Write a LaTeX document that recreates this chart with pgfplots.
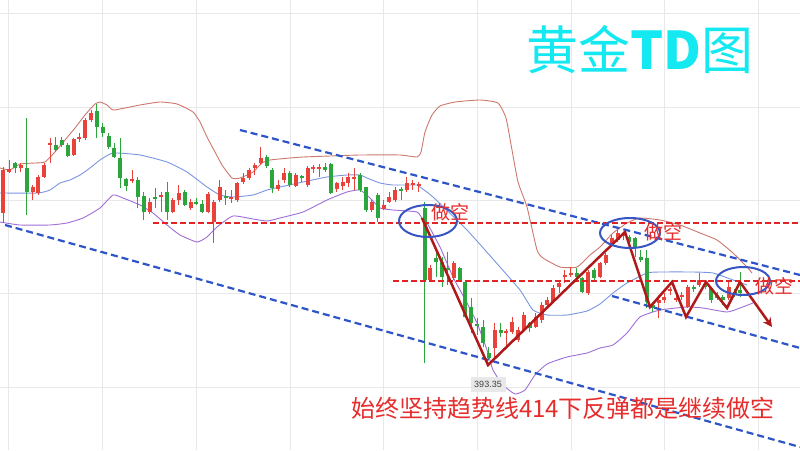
\documentclass[border=0pt]{standalone}
\usepackage{pgfplots}
\pgfplotsset{compat=1.18}
\usepackage{pgfplotstable}
\usepackage{fontspec}
\setmainfont{Liberation Sans}
\newfontfamily\cjk{Noto Sans CJK SC}
\usetikzlibrary{arrows.meta}
\definecolor{candR}{RGB}{232,66,58}
\definecolor{candG}{RGB}{44,165,60}
\definecolor{upperc}{RGB}{205,120,110}
\definecolor{midc}{RGB}{120,150,225}
\definecolor{lowc}{RGB}{160,110,215}
\definecolor{trendc}{RGB}{45,85,200}
\definecolor{hdash}{RGB}{225,35,35}
\definecolor{arrowc}{RGB}{175,25,25}
\definecolor{ellc}{RGB}{55,85,195}
\definecolor{titlec}{RGB}{20,232,240}
\definecolor{gridc}{RGB}{232,232,232}
\definecolor{txtred}{RGB}{230,45,45}

\pgfplotstableread{
i o c h l
0 213 170 167 223
1 172 169 160 173
3 168 165 163 172
5 192 187 185 200
6 193 177 175 195
7 177 165 163 178
8 145 143 138 163
12 155 139 138 156
13 139 137 133 142
14 138 120 118 140
15 120 113 110 122
22 181 179 170 183
25 212 202 198 214
27 197 195 192 212
29 212 200 198 213
30 200 193 185 205
32 208 202 199 210
35 212 194 192 213
36 222 202 200 243
37 200 187 180 202
39 199 197 190 203
40 200 183 182 202
41 182 178 173 184
42 178 170 168 180
43 168 165 163 175
44 163 158 147 165
47 189 185 180 191
48 180 173 168 183
50 186 175 173 187
52 185 168 166 187
53 169 167 165 173
54 169 167 164 177
57 189 183 182 192
58 186 182 177 190
59 183 177 173 187
60 179 177 168 190
63 210 202 200 212
65 209 205 200 210
66 202 197 192 203
67 200 190 187 202
69 190 183 177 192
70 185 183 180 190
71 186 184 182 192
73 280 268 265 282
77 278 263 261 280
84 348 330 323 360
86 333 331 329 347
87 332 322 317 334
88 340 330 327 342
89 330 315 312 332
91 327 317 313 328
92 320 305 302 323
93 305 300 297 307
94 302 288 285 303
95 287 283 280 293
96 277 275 270 283
97 275 273 267 277
100 293 272 270 295
102 277 263 262 278
103 263 255 253 265
104 245 238 235 247
105 240 233 230 242
106 236 234 232 240
112 303 300 298 318
113 300 297 293 303
114 291 289 287 295
115 300 298 295 302
116 297 295 292 300
117 307 287 285 308
119 285 280 273 287
124 298 287 280 300
}\redc

\pgfplotstableread{
i o c h l
2 163 168 162 173
4 168 192 118 215
9 145 150 137 152
10 140 145 137 147
11 145 156 143 157
16 111 127 104 138
17 127 133 123 137
18 136 147 133 149
19 148 157 143 158
20 158 178 138 188
21 179 186 178 191
23 180 197 177 208
24 196 212 192 220
26 197 199 188 208
28 192 212 182 220
31 192 205 190 206
33 202 204 198 205
34 204 212 200 213
38 196 198 190 205
45 157 166 155 168
46 170 188 168 193
49 173 185 171 187
51 176 178 175 182
55 167 170 163 172
56 164 193 163 194
61 175 190 173 192
62 187 210 187 212
64 195 218 193 222
68 189 191 187 200
72 208 280 202 363
74 258 262 253 277
75 262 277 257 287
76 268 270 252 285
78 268 280 267 282
79 282 317 280 318
80 307 323 298 333
81 324 326 318 335
82 327 343 320 347
83 353 358 347 360
85 330 333 323 337
90 323 328 322 332
98 273 277 268 278
99 278 292 277 293
101 270 278 268 280
107 237 242 235 244
108 238 248 237 257
109 257 260 250 262
110 258 302 250 308
111 305 308 302 312
118 287 289 285 292
120 285 287 280 289
121 288 300 287 303
122 295 298 292 300
123 297 300 295 305
125 292 295 289 297
126 290 293 272 297
}\greenc

\begin{document}
\begin{tikzpicture}
\begin{axis}[
  x=1pt, y=1pt, y dir=reverse,
  xmin=0, xmax=800, ymin=0, ymax=450,
  hide axis, clip=true,
]
% background and grid
\addplot[draw=none, fill=white] coordinates {(0,0)(800,0)(800,450)(0,450)} \closedcycle;
\addplot[ycomb, gridc, line width=0.8pt, mark=none] coordinates {(8,450)(102,450)(196,450)(290,450)(383,450)(477,450)(571,450)(664,450)(758,450)};
\addplot[xcomb, gridc, line width=0.8pt, mark=none] coordinates {(800,13)(800,107)(800,200)(800,293)(800,387)};

% Bollinger bands
\addplot[upperc, line width=0.9pt, smooth, tension=0.3] coordinates {
(0,168)(10,170)(20,164)(35,163)(45,162)(55,152)(65,140)(75,128)(85,115)(95,104)(100,102)(107,105)(113,110)(125,108)(140,105)(160,102)(177,104)(193,112)(200,122)(207,137)(215,152)(222,165)(232,178)(240,178)(253,172)(262,163)(270,160)(290,158)(303,157)(330,156)(360,155)(400,155)(417,157)(421,152)(425,132)(432,115)(440,106)(455,102)(480,100)(498,103)(506,118)(512,150)(518,182)(527,207)(537,250)(543,258)(560,267)(577,267)(590,255)(600,247)(613,233)(627,223)(640,218)(660,220)(680,225)(700,233)(717,240)(733,253)(747,267)(752,273)};
\addplot[midc, line width=0.9pt, smooth, tension=0.3] coordinates {
(0,193)(38,193)(50,190)(60,183)(70,180)(80,175)(90,168)(100,160)(113,153)(140,155)(167,162)(187,172)(207,187)(220,195)(233,197)(253,195)(267,190)(280,187)(303,182)(327,177)(347,175)(360,175)(367,178)(380,183)(393,185)(417,185)(420,187)(433,197)(467,230)(500,267)(520,290)(533,310)(547,315)(567,315)(587,311)(600,304)(613,293)(627,283)(647,273)(660,272)(693,272)(713,273)(733,280)(747,285)};
\addplot[lowc, line width=0.9pt, smooth, tension=0.3] coordinates {
(0,222)(20,225)(50,225)(67,223)(83,218)(100,208)(113,195)(123,198)(140,205)(153,213)(167,225)(180,235)(197,242)(207,237)(217,227)(233,216)(253,219)(267,221)(280,218)(303,212)(327,200)(347,192)(360,190)(370,198)(380,208)(393,210)(417,212)(423,220)(427,223)(440,247)(453,277)(467,303)(477,323)(487,350)(493,370)(503,385)(515,394)(525,390)(535,375)(547,364)(567,357)(587,353)(600,348)(613,345)(627,333)(640,317)(660,310)(687,307)(703,308)(727,312)(740,308)(753,303)};

% candles: wicks
\addplot[draw=none, mark=none, error bars/.cd, y dir=both, y explicit, error mark=none,
  error bar style={draw=candR, solid, line width=1pt}]
  table[x expr=3.3+5.85*\thisrow{i}, y expr=(\thisrow{h}+\thisrow{l})/2, y error expr=(\thisrow{l}-\thisrow{h})/2] {\redc};
\addplot[draw=none, mark=none, error bars/.cd, y dir=both, y explicit, error mark=none,
  error bar style={draw=candG, solid, line width=1pt}]
  table[x expr=3.3+5.85*\thisrow{i}, y expr=(\thisrow{h}+\thisrow{l})/2, y error expr=(\thisrow{l}-\thisrow{h})/2] {\greenc};
% candles: bodies
\addplot[draw=none, mark=none, error bars/.cd, y dir=both, y explicit, error mark=none,
  error bar style={draw=candR, solid, line width=4pt}]
  table[x expr=3.3+5.85*\thisrow{i}, y expr=(\thisrow{o}+\thisrow{c})/2, y error expr=abs(\thisrow{o}-\thisrow{c})/2] {\redc};
\addplot[draw=none, mark=none, error bars/.cd, y dir=both, y explicit, error mark=none,
  error bar style={draw=candG, solid, line width=4pt}]
  table[x expr=3.3+5.85*\thisrow{i}, y expr=(\thisrow{o}+\thisrow{c})/2, y error expr=abs(\thisrow{o}-\thisrow{c})/2] {\greenc};

% trend lines
\addplot[trendc, line width=2.2pt, dash pattern=on 7pt off 4pt] coordinates {(240,130)(800,275)};
\addplot[trendc, line width=2.2pt, dash pattern=on 7pt off 4pt] coordinates {(5,225)(800,447)};
\addplot[trendc, line width=2.2pt, dash pattern=on 7pt off 4pt] coordinates {(612,296)(800,348)};
% horizontal levels
\addplot[hdash, line width=2pt, dash pattern=on 6pt off 3pt] coordinates {(153,223)(800,223)};
\addplot[hdash, line width=2pt, dash pattern=on 6pt off 3pt] coordinates {(393,281)(800,281)};

% zigzag arrows
\addplot[arrowc, line width=2.5pt, line join=miter] coordinates {(422,218)(488,365)(625,232)(650,307)(672,282)(686,317)(706,282)(727,308)(740,282)};
\addplot[arrowc, line width=2.5pt, -{Stealth[length=9pt,width=9pt]}] coordinates {(740,282)(772,327)};

% ellipses
\draw[ellc, line width=2pt] (axis cs:428,221) ellipse [x radius=29pt, y radius=16pt];
\draw[ellc, line width=2pt] (axis cs:630,233) ellipse [x radius=30pt, y radius=15pt];
\draw[ellc, line width=2pt] (axis cs:743,281) ellipse [x radius=27pt, y radius=14pt];

% texts
\node[text=titlec, font=\cjk\fontsize{52}{56}\selectfont] at (axis cs:640,50) {黄金{\bfseries TD}图};
\node[text=txtred, font=\cjk\fontsize{19}{21}\selectfont] at (axis cs:450,212) {做空};
\node[text=txtred, font=\cjk\fontsize{19}{21}\selectfont] at (axis cs:663,232) {做空};
\node[text=txtred, font=\cjk\fontsize{19}{21}\selectfont] at (axis cs:774,286) {做空};
\node[text=txtred, font=\cjk\fontsize{24}{26}\selectfont] at (axis cs:563,408) {始终坚持趋势线414下反弹都是继续做空};
\node[fill=gridc, text=black!75, font=\fontsize{9}{10}\selectfont, inner sep=2pt, minimum width=35pt, minimum height=15pt] at (axis cs:488,384) {393.35};
\end{axis}
\end{tikzpicture}
\end{document}
